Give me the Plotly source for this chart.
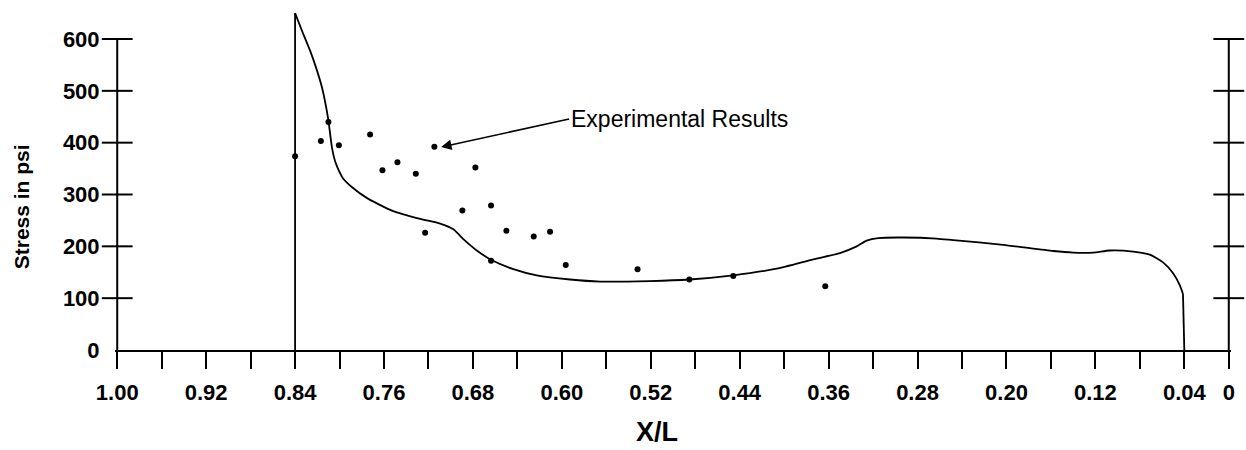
import plotly.graph_objects as go

# ---------------- data ----------------
curve_x = [0.840, 0.840, 0.8336, 0.8264, 0.8201, 0.8156, 0.8103, 0.8067, 0.8040, 0.8004,
           0.7968, 0.7887, 0.7752, 0.7518, 0.7275, 0.7095, 0.6976, 0.6886, 0.6765, 0.6637,
           0.6436, 0.6226, 0.5926, 0.5656, 0.5207, 0.4853, 0.4458, 0.4067, 0.3738, 0.3498,
           0.3348, 0.3258, 0.3154, 0.2929, 0.2629, 0.2479, 0.2030, 0.1580, 0.1400, 0.1220,
           0.1070, 0.0861, 0.0711, 0.0591, 0.0501, 0.0441, 0.0412, 0.040]
curve_y = [0, 650, 615, 577, 538, 505, 447, 389, 364, 345,
           331, 314, 293, 268, 253, 244, 233, 214, 192, 174,
           156, 144, 136, 132, 133, 136, 144, 157, 175, 187,
           200, 211, 216, 217, 215, 212, 203, 191, 188, 188,
           192, 190, 184, 169, 148, 125, 108, 0]

exp_x = [0.840, 0.8168, 0.8100, 0.8006, 0.7725, 0.7614, 0.7479, 0.7314, 0.7147, 0.7230,
         0.6778, 0.6895, 0.6637, 0.6637, 0.6499, 0.6253, 0.6106, 0.5965, 0.5319, 0.4853,
         0.4458, 0.3630]
exp_y = [374, 403, 440, 395, 416, 347, 362, 340, 392, 226,
         352, 269, 279, 172, 230, 219, 228, 164, 156, 136,
         143, 123]

x_tick_vals = [0.00, 0.04, 0.08, 0.12, 0.16, 0.20, 0.24, 0.28, 0.32, 0.36, 0.40, 0.44, 0.48,
               0.52, 0.56, 0.60, 0.64, 0.68, 0.72, 0.76, 0.80, 0.84, 0.88, 0.92, 0.96, 1.00]
x_tick_text = ["0", "0.04", "", "0.12", "", "0.20", "", "0.28", "", "0.36", "", "0.44", "",
               "0.52", "", "0.60", "", "0.68", "", "0.76", "", "0.84", "", "0.92", "", "1.00"]
y_tick_vals = [0, 100, 200, 300, 400, 500, 600]
y_tick_text = ["0", "100", "200", "300", "400", "500", "600"]

x_left_edge = 1.00
x_right_edge = 0.00

FONT = "Liberation Sans, Arial, sans-serif"

fig = go.Figure()

# left and right vertical axes (lines with crossing ticks)
for xe in (x_left_edge, x_right_edge):
    fig.add_trace(go.Scatter(
        x=[xe] * len(y_tick_vals), y=y_tick_vals, mode="lines",
        line=dict(color="black", width=2), hoverinfo="skip", showlegend=False,
    ))
    fig.add_trace(go.Scatter(
        x=[xe] * (len(y_tick_vals) - 1), y=y_tick_vals[1:], mode="markers",
        marker=dict(symbol="line-ew", size=22, line=dict(color="black", width=2)),
        cliponaxis=False, hoverinfo="skip", showlegend=False,
    ))

# theoretical curve: vertical rise, smooth body, vertical drop
n = len(curve_x)
fig.add_trace(go.Scatter(
    x=curve_x[:2], y=curve_y[:2], mode="lines",
    line=dict(color="black", width=1.8), showlegend=False,
))
fig.add_trace(go.Scatter(
    x=curve_x[1:n - 1], y=curve_y[1:n - 1], mode="lines",
    line=dict(color="black", width=1.8, shape="spline", smoothing=0.6), showlegend=False,
))
fig.add_trace(go.Scatter(
    x=curve_x[n - 2:], y=curve_y[n - 2:], mode="lines",
    line=dict(color="black", width=1.8), showlegend=False,
))

# experimental results
fig.add_trace(go.Scatter(
    x=exp_x, y=exp_y, mode="markers",
    marker=dict(color="black", size=6), cliponaxis=False, showlegend=False,
))

fig.update_layout(
    width=1246, height=450,
    margin=dict(l=115, r=15, t=5, b=100),
    paper_bgcolor="white", plot_bgcolor="white",
    xaxis=dict(
        range=[1.002, -0.002], tickmode="array", tickvals=x_tick_vals, ticktext=x_tick_text,
        showgrid=False, zeroline=False, showline=True, linecolor="black", linewidth=2,
        ticks="outside", ticklen=17, tickwidth=2, tickcolor="black",
        ticklabelstandoff=5,
        tickfont=dict(family=FONT, size=22, color="black", weight="bold"),
    ),
    yaxis=dict(
        range=[0, 665.6], tickmode="array", tickvals=y_tick_vals, ticktext=y_tick_text,
        showgrid=False, zeroline=False, showline=False,
        ticks="outside", ticklen=10, tickcolor="rgba(0,0,0,0)",
        tickfont=dict(family=FONT, size=22, color="black", weight="bold"),
    ),
    annotations=[
        dict(text="X/L", xref="paper", yref="paper", x=0.4857, y=-0.2377,
             xanchor="center", yanchor="middle", showarrow=False,
             font=dict(family=FONT, size=27, color="black", weight="bold")),
        dict(text="Stress in psi", xref="paper", yref="paper", x=-0.0831, y=0.4145,
             xanchor="center", yanchor="middle", showarrow=False, textangle=-90,
             font=dict(family=FONT, size=21, color="black", weight="bold")),
        dict(text="Experimental Results", x=0.7086, y=391.6, xref="x", yref="y",
             showarrow=True, ax=128, ay=-28, xanchor="left", yanchor="middle",
             arrowhead=2, arrowsize=1.3, arrowwidth=1.6, arrowcolor="black",
             font=dict(family=FONT, size=23, color="black")),
    ],
)

fig.write_html("out.html")
